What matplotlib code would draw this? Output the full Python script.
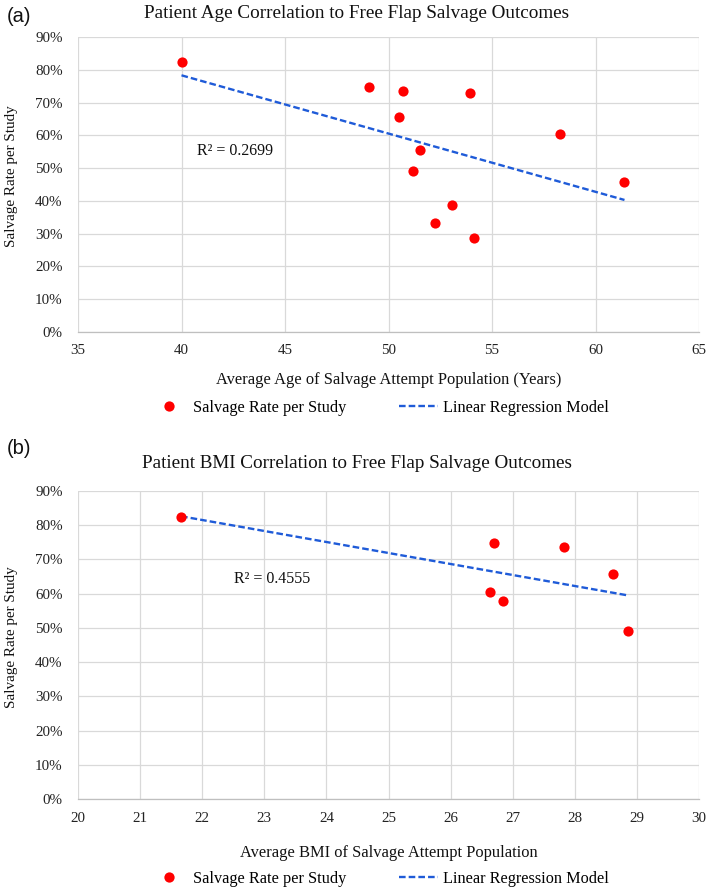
import matplotlib
matplotlib.use("Agg")
import matplotlib.pyplot as plt
import numpy as np
from matplotlib.ticker import PercentFormatter, MultipleLocator
from matplotlib.lines import Line2D

# ---- data ----
age = [40.0, 49.05, 50.7, 53.95, 50.5, 58.3, 51.5, 51.2, 61.4, 53.05, 52.25, 54.15]
age_rate = [82.4, 74.8, 73.6, 72.8, 65.6, 60.3, 55.4, 49.0, 45.8, 38.6, 33.3, 28.6]
bmi = [21.66, 26.70, 27.82, 28.62, 26.63, 26.85, 28.85]
bmi_rate = [82.5, 74.9, 73.6, 65.8, 60.4, 58.0, 49.0]
r2_age = "R² = 0.2699"
r2_bmi = "R² = 0.4555"
title_a = "Patient Age Correlation to Free Flap Salvage Outcomes"
title_b = "Patient BMI Correlation to Free Flap Salvage Outcomes"
xlabel_a = "Average Age of Salvage Attempt Population (Years)"
xlabel_b = "Average BMI of Salvage Attempt Population"
ylabel = "Salvage Rate per Study"
legend_labels = ["Salvage Rate per Study", "Linear Regression Model"]

SERIF = "Liberation Serif"
plt.rcParams["font.family"] = [SERIF, "DejaVu Serif"]

W, H = 709, 890
fig = plt.figure(figsize=(W / 100, H / 100), dpi=100)

RED = "#FF0000"
BLUE = "#1F5BD8"
GRID = "#D9D9D9"


def panel(rect, x, y, xlim, xstep, title, xlabel, r2, r2pos, title_y, xlab_y, leg_y, tag, tag_y, ylab_y):
    ax = fig.add_axes(rect)
    ax.set_xlim(*xlim)
    ax.set_ylim(0, 90)
    ax.xaxis.set_major_locator(MultipleLocator(xstep))
    ax.yaxis.set_major_locator(MultipleLocator(10))
    ax.yaxis.set_major_formatter(PercentFormatter(xmax=100, decimals=0))
    ax.grid(True, color=GRID, lw=0.9, zorder=0)
    for s in ["top", "right", "left"]:
        ax.spines[s].set_visible(False)
    ax.spines["bottom"].set_color("#BFBFBF")
    ax.spines["bottom"].set_linewidth(0.9)
    ax.tick_params(length=0, labelsize=10.8, colors="#222222")
    ax.tick_params(axis="y", pad=11)
    ax.tick_params(axis="x", pad=9)
    ax.set_axisbelow(True)

    ax.scatter(x, y, s=54, color=RED, zorder=3, linewidths=0)
    coef = np.polyfit(x, y, 1)
    xs = np.array([min(x), max(x)])
    ax.plot(xs, np.polyval(coef, xs), color=BLUE, lw=1.7, ls=(0, (2.8, 1.3)), zorder=2)

    ax.text(r2pos[0], r2pos[1], r2, fontsize=11.5, ha="left", va="center", color="#111111")

    fig.text(357 / W, 1 - title_y / H, title, ha="center", va="center", fontsize=13.75, color="#111111")
    fig.text(389 / W, 1 - xlab_y / H, xlabel, ha="center", va="center", fontsize=11.85, color="#111111")
    fig.text(12 / W, 1 - ylab_y / H, ylabel, rotation=90, ha="center", va="center",
             fontsize=10.9, color="#111111")
    fig.text(7 / W, 1 - tag_y / H, tag, ha="left", va="center", fontsize=14.5,
             family=["Liberation Sans", "DejaVu Sans"], color="#111111")

    handles = [
        Line2D([], [], ls="none", marker="o", markersize=7.4, color=RED, markeredgewidth=0),
        Line2D([], [], color=BLUE, lw=1.7, ls=(0, (2.8, 1.3))),
    ]
    fig.legend(handles, legend_labels, loc="center", bbox_to_anchor=(379 / W, 1 - leg_y / H),
               ncol=2, frameon=False, fontsize=11.7, handlelength=2.4, handletextpad=0.25,
               columnspacing=3.3, borderaxespad=0, borderpad=0)
    return ax


panel([78 / W, 1 - 332 / H, 621 / W, 295 / H], age, age_rate, (35, 65), 5,
      title_a, xlabel_a, r2_age, (40.77, 55.2), 13, 380, 408, "(a)", 17, 176)
panel([78 / W, 1 - 799 / H, 621 / W, 308 / H], bmi, bmi_rate, (20, 30), 1,
      title_b, xlabel_b, r2_bmi, (22.51, 64.3), 464, 853, 879, "(b)", 449, 637)

fig.savefig("out.png", dpi=100)
